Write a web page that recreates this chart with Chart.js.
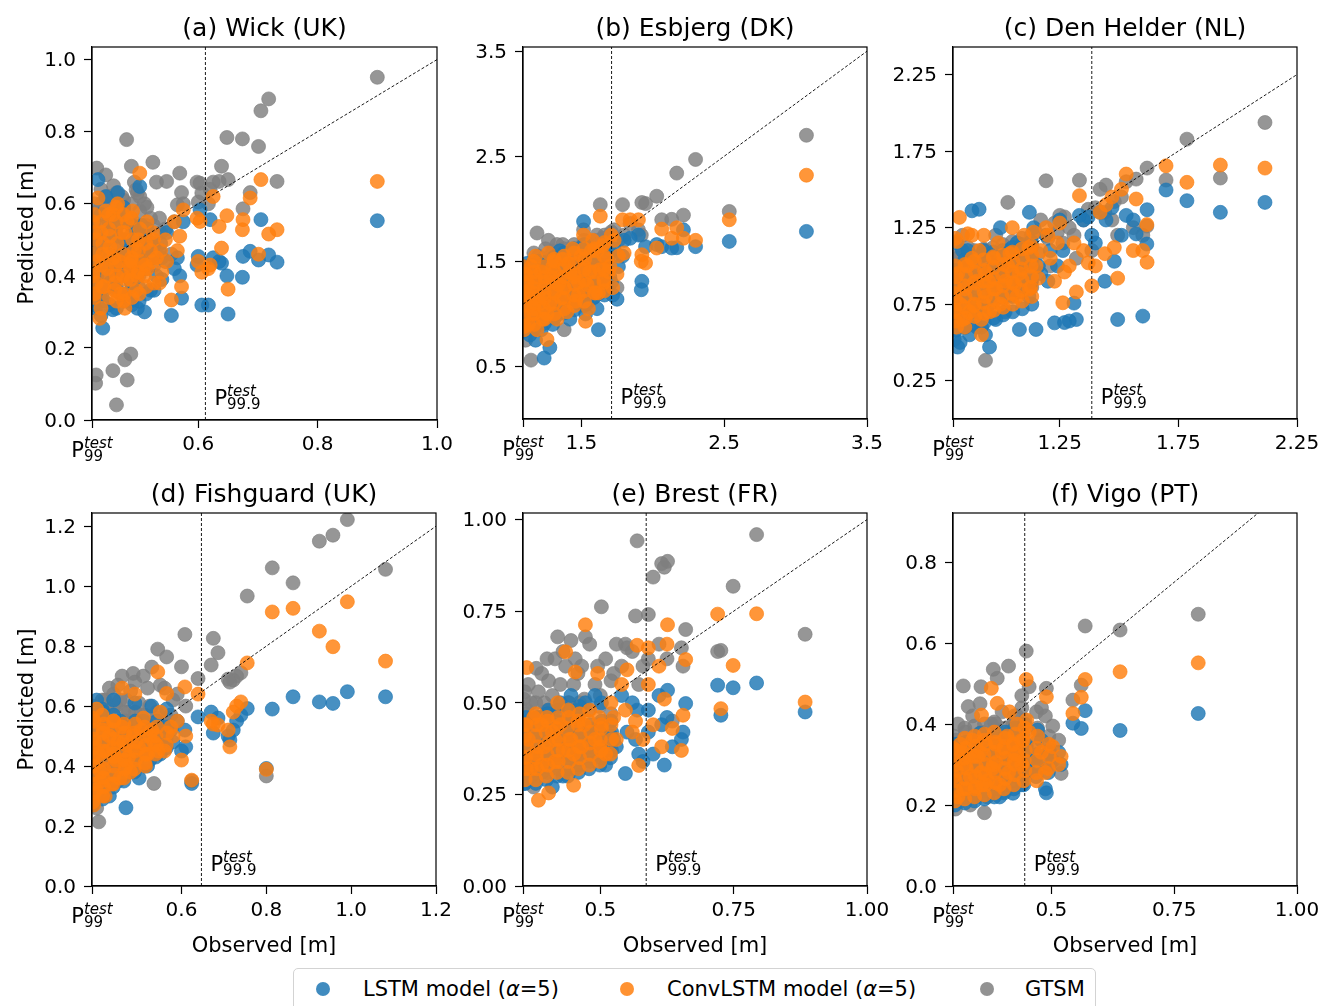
<!DOCTYPE html>
<html>
<head>
<meta charset="utf-8">
<title>Extreme surge predictions</title>
<script src="https://cdn.jsdelivr.net/npm/chart.js@4.4.1/dist/chart.umd.min.js"></script>
<style>
  html, body { margin: 0; padding: 0; background: #fff; }
  #fig { position: relative; width: 1324px; height: 1006px; overflow: hidden; background: #fff; }
  #fig canvas { position: absolute; left: 0; top: 0; }
  #legend { position: absolute; left: 293px; top: 968px; width: 801px; height: 60px;
            border: 1px solid #d3d3d3; border-radius: 5px; }
  .mk { position: absolute; top: 982px; width: 14px; height: 14px; border-radius: 50%; }
  .lg { position: absolute; top: 977px; font-family: 'DejaVu Sans', sans-serif; font-size: 21px;
        line-height: 24px; color: #000; white-space: nowrap; }
</style>
</head>
<body>
<div id="fig">
  <div id="legend"></div>
  <div class="mk" style="left:316px;background:rgba(31,119,180,0.85)"></div>
  <span class="lg" style="left:363px">LSTM model (<i>α</i>=5)</span>
  <div class="mk" style="left:620px;background:rgba(255,127,14,0.85)"></div>
  <span class="lg" style="left:667px">ConvLSTM model (<i>α</i>=5)</span>
  <div class="mk" style="left:980px;background:rgba(127,127,127,0.85)"></div>
  <span class="lg" style="left:1025px">GTSM</span>
</div>
<script>
// ---- stations, thresholds and axis limits ----
const stations = ['(a) Wick (UK)', '(b) Esbjerg (DK)', '(c) Den Helder (NL)',
                  '(d) Fishguard (UK)', '(e) Brest (FR)', '(f) Vigo (PT)'];
const p99  = [0.422, 1.092, 0.80, 0.389, 0.355, 0.30];   // x-axis starts at P99 of the test set
const p999 = [0.612, 1.712, 1.385, 0.647, 0.586, 0.446];
const xMax = [1.0, 3.5, 2.25, 1.2, 1.0, 1.0];
const yMax = [1.035, 3.54, 2.43, 1.244, 1.018, 0.921];

const xTicks = [[0.6, 0.8, 1.0], [1.5, 2.5, 3.5], [1.25, 1.75, 2.25],
                [0.6, 0.8, 1.0, 1.2], [0.5, 0.75, 1.0], [0.5, 0.75, 1.0]];
const xTickLabels = [['0.6', '0.8', '1.0'], ['1.5', '2.5', '3.5'], ['1.25', '1.75', '2.25'],
                     ['0.6', '0.8', '1.0', '1.2'], ['0.5', '0.75', '1.00'], ['0.5', '0.75', '1.00']];
const yTicks = [[0, 0.2, 0.4, 0.6, 0.8, 1.0], [0.5, 1.5, 2.5, 3.5], [0.25, 0.75, 1.25, 1.75, 2.25],
                [0, 0.2, 0.4, 0.6, 0.8, 1.0, 1.2], [0, 0.25, 0.5, 0.75, 1.0], [0, 0.2, 0.4, 0.6, 0.8]];
const yTickLabels = [['0.0', '0.2', '0.4', '0.6', '0.8', '1.0'], ['0.5', '1.5', '2.5', '3.5'],
                     ['0.25', '0.75', '1.25', '1.75', '2.25'],
                     ['0.0', '0.2', '0.4', '0.6', '0.8', '1.0', '1.2'],
                     ['0.00', '0.25', '0.50', '0.75', '1.00'], ['0.0', '0.2', '0.4', '0.6', '0.8']];

// ---- observed vs predicted surge [m] ----
const wickObs = [0.900, 0.732, 0.718, 0.705, 0.701, 0.687, 0.675, 0.674, 0.650, 0.648,
  0.639, 0.635, 0.625, 0.620, 0.617, 0.606, 0.603, 0.600, 0.598, 0.575,
  0.572, 0.569, 0.565, 0.560, 0.555, 0.547, 0.545, 0.535, 0.524, 0.520,
  0.510, 0.505, 0.502, 0.498, 0.496, 0.490, 0.488, 0.487, 0.481, 0.480,
  0.477, 0.472, 0.468, 0.465, 0.463, 0.460, 0.457, 0.452, 0.447, 0.442,
  0.440, 0.437, 0.435, 0.432, 0.430, 0.429, 0.428, 0.426, 0.424, 0.423,
  0.470, 0.485, 0.493, 0.515, 0.450, 0.475, 0.445, 0.458, 0.500, 0.530,
  0.426, 0.424, 0.427, 0.425, 0.426, 0.437, 0.439, 0.438, 0.440, 0.437,
  0.451, 0.449, 0.450, 0.452, 0.450, 0.463, 0.461, 0.462, 0.464, 0.462,
  0.463, 0.476, 0.474, 0.475, 0.477, 0.475, 0.489, 0.487, 0.488, 0.490,
  0.488, 0.501, 0.499, 0.500, 0.502, 0.513, 0.511, 0.512, 0.514, 0.526,
  0.524, 0.525, 0.539, 0.537];
const wickLstm = [0.553, 0.438, 0.458, 0.556, 0.444, 0.468, 0.454, 0.396, 0.294, 0.400,
  0.435, 0.440, 0.450, 0.556, 0.319, 0.319, 0.583, 0.454, 0.430, 0.550,
  0.338, 0.400, 0.450, 0.420, 0.290, 0.520, 0.440, 0.470, 0.450, 0.360,
  0.300, 0.540, 0.648, 0.310, 0.420, 0.500, 0.380, 0.330, 0.470, 0.350,
  0.420, 0.550, 0.400, 0.631, 0.360, 0.450, 0.306, 0.380, 0.500, 0.330,
  0.255, 0.420, 0.350, 0.667, 0.400, 0.460, 0.310, 0.380, 0.520, 0.430,
  0.440, 0.400, 0.430, 0.480, 0.370, 0.340, 0.620, 0.520, 0.370, 0.400,
  0.32, 0.42, 0.44, 0.50, 0.55, 0.29, 0.35, 0.45, 0.47, 0.57,
  0.32, 0.42, 0.44, 0.53, 0.55, 0.31, 0.40, 0.41, 0.51, 0.53,
  0.57, 0.33, 0.42, 0.44, 0.50, 0.59, 0.32, 0.41, 0.42, 0.52,
  0.54, 0.33, 0.43, 0.45, 0.51, 0.35, 0.45, 0.47, 0.53, 0.36,
  0.46, 0.48, 0.39, 0.49];
const wickConv = [0.662, 0.528, 0.516, 0.667, 0.460, 0.616, 0.556, 0.528, 0.363, 0.567,
  0.477, 0.537, 0.620, 0.430, 0.420, 0.410, 0.551, 0.440, 0.560, 0.583,
  0.370, 0.510, 0.470, 0.550, 0.333, 0.440, 0.500, 0.380, 0.520, 0.470,
  0.400, 0.440, 0.685, 0.400, 0.360, 0.580, 0.450, 0.420, 0.550, 0.390,
  0.310, 0.520, 0.440, 0.600, 0.400, 0.360, 0.570, 0.480, 0.420, 0.370,
  0.460, 0.520, 0.282, 0.616, 0.440, 0.380, 0.500, 0.350, 0.410, 0.550,
  0.350, 0.430, 0.470, 0.420, 0.530, 0.330, 0.580, 0.450, 0.500, 0.450,
  0.34, 0.40, 0.46, 0.52, 0.57, 0.31, 0.37, 0.43, 0.49, 0.55,
  0.34, 0.40, 0.46, 0.51, 0.57, 0.33, 0.38, 0.43, 0.49, 0.55,
  0.59, 0.35, 0.40, 0.46, 0.52, 0.57, 0.34, 0.39, 0.44, 0.50,
  0.56, 0.35, 0.41, 0.47, 0.53, 0.37, 0.43, 0.49, 0.55, 0.38,
  0.44, 0.50, 0.41, 0.47];
const wickGtsm = [0.951, 0.662, 0.891, 0.858, 0.759, 0.631, 0.586, 0.780, 0.667, 0.784,
  0.704, 0.662, 0.660, 0.640, 0.600, 0.630, 0.657, 0.605, 0.660, 0.600,
  0.631, 0.685, 0.597, 0.550, 0.460, 0.662, 0.530, 0.560, 0.715, 0.560,
  0.600, 0.540, 0.620, 0.630, 0.639, 0.500, 0.704, 0.183, 0.111, 0.778,
  0.167, 0.620, 0.580, 0.550, 0.042, 0.500, 0.137, 0.583, 0.450, 0.600,
  0.400, 0.640, 0.520, 0.580, 0.699, 0.125, 0.102, 0.440, 0.550, 0.490,
  0.470, 0.560, 0.660, 0.500, 0.620, 0.580, 0.680, 0.650, 0.450, 0.660,
  0.38, 0.45, 0.50, 0.56, 0.60, 0.36, 0.41, 0.48, 0.53, 0.60,
  0.39, 0.44, 0.51, 0.56, 0.62, 0.37, 0.43, 0.48, 0.54, 0.59,
  0.63, 0.40, 0.46, 0.50, 0.57, 0.61, 0.38, 0.44, 0.49, 0.55,
  0.60, 0.40, 0.46, 0.51, 0.58, 0.42, 0.47, 0.54, 0.59, 0.43,
  0.49, 0.54, 0.45, 0.52];

const esbjergObs = [3.076, 2.536, 2.30, 2.215, 2.168, 2.133, 2.063, 2.028, 1.95, 1.924,
  1.92, 1.90, 1.842, 1.80, 1.789, 1.76, 1.75, 1.73, 1.72, 1.70,
  1.68, 1.66, 1.633, 1.62, 1.61, 1.60, 1.58, 1.56, 1.55, 1.53,
  1.516, 1.50, 1.48, 1.46, 1.44, 1.42, 1.40, 1.38, 1.37, 1.35,
  1.33, 1.32, 1.30, 1.28, 1.27, 1.26, 1.25, 1.24, 1.23, 1.22,
  1.20, 1.19, 1.18, 1.17, 1.16, 1.15, 1.148, 1.14, 1.13, 1.12,
  1.11, 1.10, 1.095, 1.093, 1.21, 1.29, 1.36, 1.45, 1.52, 1.57,
  1.65, 1.69, 1.71, 1.13, 1.26, 1.34, 1.41, 1.48, 1.54, 1.63,
  1.11, 1.18, 1.31,
  1.102, 1.098, 1.104, 1.100, 1.103, 1.099,
  1.171, 1.168, 1.172, 1.169, 1.173, 1.170, 1.168,
  1.242, 1.238, 1.241, 1.239, 1.243, 1.240,
  1.312, 1.308, 1.311, 1.309, 1.313, 1.310,
  1.382, 1.378, 1.381, 1.379, 1.383, 1.380,
  1.452, 1.448, 1.451, 1.449, 1.453, 1.450,
  1.522, 1.518, 1.521, 1.519, 1.523, 1.520,
  1.592, 1.588, 1.591, 1.589, 1.593,
  1.662, 1.658, 1.661, 1.659, 1.663];
const esbjergLstm = [1.785, 1.69, 1.64, 1.80, 1.63, 1.627, 1.64, 1.66, 1.64, 1.31,
  1.23, 1.75, 1.72, 1.70, 1.55, 1.45, 1.14, 1.62, 1.18, 1.35,
  1.25, 1.40, 1.55, 0.85, 1.05, 1.30, 1.15, 1.45, 1.20, 1.00,
  1.88, 1.35, 1.10, 1.25, 1.50, 0.95, 1.30, 1.45, 1.05, 1.60,
  1.15, 1.38, 0.90, 0.68, 1.25, 1.45, 1.05, 0.58, 1.35, 0.85,
  1.50, 1.10, 0.75, 1.30, 0.95, 1.20, 1.40, 0.80, 1.05, 1.48,
  0.90, 1.25, 1.00, 0.85, 1.00, 1.20, 1.10, 1.35, 1.25, 1.35,
  1.50, 1.55, 1.30, 1.15, 1.10, 1.00, 1.20, 1.45, 1.10, 1.20,
  1.35, 1.25, 1.35,
  0.84, 1.02, 1.05, 1.22, 1.25, 1.42,
  0.86, 1.04, 1.06, 1.24, 1.26, 1.44, 1.46,
  0.91, 1.09, 1.11, 1.29, 1.31, 1.49,
  0.96, 1.14, 1.16, 1.34, 1.36, 1.54,
  1.01, 1.19, 1.21, 1.39, 1.41, 1.58,
  1.04, 1.22, 1.24, 1.42, 1.44, 1.62,
  1.08, 1.26, 1.28, 1.46, 1.48, 1.66,
  1.16, 1.34, 1.36, 1.54, 1.58,
  1.18, 1.36, 1.38, 1.59, 1.64];
const esbjergConv = [2.32, 1.896, 1.70, 1.72, 1.82, 1.72, 1.807, 1.627, 1.484, 1.563,
  1.50, 1.896, 1.896, 1.58, 1.896, 1.55, 1.38, 1.70, 1.25, 1.45,
  1.52, 1.30, 1.93, 1.20, 1.60, 1.20, 1.70, 1.40, 1.05, 0.93,
  1.75, 1.55, 1.30, 1.12, 1.62, 1.40, 1.02, 1.25, 1.52, 1.35,
  0.95, 1.22, 1.45, 1.10, 1.58, 0.756, 1.30, 1.20, 0.95, 1.40,
  1.15, 0.85, 1.35, 1.05, 1.25, 1.45, 1.00, 1.15, 0.90, 1.30,
  1.10, 0.85, 1.45, 1.20, 1.10, 1.35, 1.15, 1.35, 1.45, 1.60,
  1.65, 1.40, 1.75, 1.22, 1.00, 1.28, 1.48, 1.18, 1.28, 1.42,
  1.38, 1.55, 1.52,
  0.88, 0.98, 1.08, 1.18, 1.28, 1.38,
  0.90, 1.00, 1.10, 1.20, 1.30, 1.40, 1.50,
  0.95, 1.05, 1.15, 1.25, 1.35, 1.45,
  1.00, 1.10, 1.20, 1.30, 1.40, 1.50,
  1.05, 1.15, 1.25, 1.35, 1.45, 1.55,
  1.08, 1.18, 1.28, 1.38, 1.48, 1.58,
  1.12, 1.22, 1.32, 1.42, 1.52, 1.62,
  1.20, 1.30, 1.40, 1.50, 1.62,
  1.22, 1.32, 1.42, 1.55, 1.68];
const esbjergGtsm = [2.70, 1.975, 2.47, 1.94, 2.34, 1.90, 1.896, 2.12, 2.05, 2.06,
  1.75, 1.80, 1.86, 1.75, 2.04, 1.70, 1.25, 1.80, 1.55, 1.60,
  1.70, 1.50, 2.04, 1.40, 1.75, 1.45, 1.55, 1.65, 1.30, 1.25,
  1.80, 1.45, 1.62, 1.38, 1.55, 1.20, 1.50, 0.85, 1.66, 1.40,
  1.66, 1.30, 1.60, 1.25, 1.70, 1.10, 1.62, 1.00, 1.45, 1.30,
  1.55, 1.77, 1.00, 1.20, 1.40, 0.90, 0.56, 1.30, 1.10, 1.45,
  0.75, 1.20, 1.35, 0.95, 1.15, 1.35, 1.25, 1.45, 1.50, 1.50,
  1.72, 1.62, 1.78, 1.25, 1.05, 1.15, 1.35, 1.20, 1.35, 1.38,
  1.30, 1.50, 1.45,
  0.95, 1.06, 1.15, 1.26, 1.35, 1.45,
  0.98, 1.08, 1.18, 1.28, 1.38, 1.48, 1.58,
  1.03, 1.13, 1.22, 1.33, 1.42, 1.53,
  1.08, 1.18, 1.28, 1.38, 1.48, 1.58,
  1.12, 1.23, 1.32, 1.43, 1.52, 1.62,
  1.15, 1.26, 1.35, 1.46, 1.55, 1.66,
  1.20, 1.30, 1.40, 1.50, 1.60, 1.70,
  1.28, 1.38, 1.48, 1.58, 1.70,
  1.30, 1.40, 1.50, 1.62, 1.75];

const denHelderObs = [2.115, 1.927, 1.786, 1.698, 1.618, 1.617, 1.60, 1.572, 1.56, 1.53,
  1.51, 1.494, 1.48, 1.47, 1.445, 1.44, 1.42, 1.40, 1.385, 1.37,
  1.35, 1.333, 1.32, 1.31, 1.29, 1.27, 1.263, 1.25, 1.228, 1.21,
  1.192, 1.17, 1.15, 1.14, 1.122, 1.10, 1.08, 1.07, 1.05, 1.031,
  1.02, 1.00, 0.99, 0.98, 0.97, 0.954, 0.94, 0.937, 0.93, 0.92,
  0.91, 0.90, 0.89, 0.88, 0.87, 0.86, 0.85, 0.84, 0.83, 0.827,
  0.82, 0.815, 0.81, 0.805, 0.80, 0.95, 1.04, 1.12, 1.16, 1.06,
  0.88, 0.92, 0.85, 1.20, 1.24,
  0.812, 0.808, 0.811, 0.809, 0.813, 0.810,
  0.852, 0.848, 0.851, 0.849, 0.853, 0.850,
  0.892, 0.888, 0.891, 0.889, 0.893, 0.890,
  0.932, 0.928, 0.931, 0.929, 0.933, 0.930,
  0.972, 0.968, 0.971, 0.969, 0.973, 0.970,
  1.012, 1.008, 1.011, 1.009, 1.013, 1.010,
  1.052, 1.048, 1.051, 1.049, 1.053, 1.050,
  1.092, 1.088, 1.091, 1.089, 1.093, 1.090,
  1.132, 1.128, 1.131, 1.129, 1.133, 1.130,
  0.818, 0.862];
const denHelderLstm = [1.415, 1.35, 1.426, 1.496, 1.367, 1.143, 0.672, 1.209, 1.30, 1.33,
  1.20, 0.65, 1.03, 1.38, 1.30, 0.90, 1.35, 1.15, 1.20, 1.32,
  1.30, 1.33, 0.65, 0.757, 0.64, 0.63, 1.10, 1.30, 0.628, 1.10,
  1.20, 0.95, 0.585, 1.25, 1.35, 1.05, 0.585, 1.15, 0.80, 1.10,
  0.70, 1.25, 0.95, 0.65, 1.00, 0.47, 0.80, 0.55, 1.10, 0.70,
  1.37, 0.60, 0.90, 1.36, 0.55, 0.85, 0.60, 1.10, 0.50, 0.80,
  0.47, 1.15, 0.65, 0.52, 0.90, 0.75, 0.85, 0.80, 1.00, 0.95,
  0.70, 0.60, 0.75, 0.90, 1.00,
  0.58, 0.66, 0.80, 0.82, 0.95, 0.97,
  0.60, 0.75, 0.76, 0.90, 0.91, 1.04,
  0.62, 0.77, 0.79, 0.92, 0.93, 1.06,
  0.63, 0.79, 0.80, 0.93, 0.95, 1.07,
  0.66, 0.81, 0.82, 0.95, 0.96, 1.09,
  0.68, 0.83, 0.84, 0.97, 0.98, 1.10,
  0.70, 0.85, 0.86, 0.99, 1.00, 1.12,
  0.72, 0.87, 0.88, 1.01, 1.02, 1.14,
  0.75, 0.89, 0.90, 1.03, 1.04, 1.16,
  0.95, 1.10];
const denHelderConv = [1.639, 1.659, 1.546, 1.654, 1.024, 1.27, 1.10, 1.437, 1.10, 1.60,
  1.50, 0.92, 1.12, 1.45, 1.40, 1.08, 1.35, 1.00, 0.87, 1.02,
  1.10, 1.459, 0.83, 1.15, 1.00, 0.96, 0.759, 1.28, 0.90, 1.05,
  1.25, 1.10, 1.00, 1.22, 0.85, 1.20, 0.95, 0.80, 1.25, 1.00,
  0.90, 0.75, 1.15, 0.85, 1.05, 0.70, 0.95, 0.80, 1.20, 0.65,
  1.10, 0.90, 0.75, 1.20, 0.70, 1.00, 0.85, 0.65, 0.75, 1.317,
  0.95, 0.60, 1.18, 0.82, 0.70, 0.90, 1.08, 1.12, 0.92, 0.88,
  1.05, 0.55, 0.60, 1.20, 1.15,
  0.64, 0.71, 0.78, 0.86, 0.93, 1.00,
  0.66, 0.73, 0.80, 0.87, 0.94, 1.01,
  0.67, 0.74, 0.82, 0.89, 0.96, 1.03,
  0.69, 0.76, 0.83, 0.90, 0.97, 1.04,
  0.71, 0.78, 0.85, 0.92, 0.99, 1.06,
  0.73, 0.80, 0.87, 0.94, 1.01, 1.07,
  0.75, 0.82, 0.89, 0.96, 1.03, 1.09,
  0.77, 0.84, 0.91, 0.98, 1.05, 1.11,
  0.80, 0.86, 0.93, 1.00, 1.07, 1.13,
  1.16, 1.21];
const denHelderGtsm = [1.937, 1.574, 1.828, 1.561, 1.639, 1.26, 1.20, 1.567, 1.25, 1.55,
  1.45, 1.20, 1.42, 1.30, 1.528, 1.35, 1.50, 1.38, 1.10, 1.37,
  1.30, 1.56, 1.05, 1.20, 1.25, 1.32, 1.15, 1.33, 1.28, 1.00,
  1.556, 1.30, 1.22, 0.98, 1.10, 0.95, 1.05, 1.15, 0.90, 1.415,
  0.85, 1.05, 0.80, 1.20, 0.95, 0.75, 1.10, 0.383, 0.90, 0.85,
  1.00, 0.70, 1.05, 0.80, 0.75, 0.90, 0.65, 1.20, 0.60, 0.95,
  0.70, 0.85, 0.80, 1.00, 0.65, 0.85, 1.00, 1.05, 1.08, 1.12,
  0.90, 0.70, 0.80, 1.18, 1.22,
  0.70, 0.78, 0.84, 0.92, 0.99, 1.06,
  0.72, 0.80, 0.86, 0.95, 1.00, 1.08,
  0.73, 0.82, 0.88, 0.96, 1.02, 1.10,
  0.75, 0.83, 0.90, 0.97, 1.04, 1.11,
  0.77, 0.85, 0.92, 0.99, 1.05, 1.12,
  0.79, 0.87, 0.93, 1.01, 1.07, 1.14,
  0.81, 0.89, 0.95, 1.03, 1.09, 1.16,
  0.83, 0.91, 0.97, 1.05, 1.11, 1.18,
  0.86, 0.93, 0.99, 1.07, 1.13, 1.20,
  1.05, 1.12];

const fishguardObs = [1.081, 0.991, 0.957, 0.925, 0.863, 0.814, 0.80, 0.755, 0.74, 0.73,
  0.722, 0.714, 0.71, 0.686, 0.675, 0.67, 0.639, 0.624, 0.61, 0.608,
  0.60, 0.59, 0.58, 0.565, 0.56, 0.55, 0.544, 0.535, 0.53, 0.52,
  0.51, 0.50, 0.49, 0.486, 0.48, 0.475, 0.469, 0.46, 0.455, 0.45,
  0.445, 0.44, 0.435, 0.43, 0.425, 0.42, 0.415, 0.41, 0.405, 0.40,
  0.398, 0.395, 0.393, 0.391, 0.39, 0.47, 0.505, 0.515, 0.525, 0.545,
  0.575, 0.44, 0.41, 0.46,
  0.391, 0.393, 0.392, 0.390, 0.394, 0.391, 0.393, 0.392, 0.390, 0.394,
  0.414, 0.416, 0.415, 0.417, 0.413, 0.416, 0.414, 0.415, 0.417, 0.413,
  0.439, 0.441, 0.440, 0.442, 0.438, 0.441, 0.439, 0.440,
  0.464, 0.466, 0.465, 0.467, 0.463, 0.466, 0.464,
  0.489, 0.491, 0.490, 0.492, 0.488, 0.491,
  0.514, 0.516, 0.515, 0.517, 0.513,
  0.539, 0.541, 0.540, 0.542,
  0.564, 0.566];
const fishguardLstm = [0.631, 0.648, 0.609, 0.614, 0.631, 0.59, 0.392, 0.592, 0.57, 0.55,
  0.52, 0.487, 0.50, 0.56, 0.51, 0.58, 0.564, 0.342, 0.464, 0.52,
  0.45, 0.55, 0.48, 0.59, 0.50, 0.44, 0.53, 0.46, 0.60, 0.40,
  0.55, 0.36, 0.61, 0.45, 0.38, 0.52, 0.261, 0.43, 0.55, 0.35,
  0.48, 0.62, 0.40, 0.30, 0.50, 0.36, 0.58, 0.42, 0.32, 0.62,
  0.45, 0.38, 0.28, 0.55, 0.33, 0.40, 0.48, 0.45, 0.42, 0.48,
  0.52, 0.38, 0.47, 0.50,
  0.27, 0.33, 0.31, 0.39, 0.37, 0.45, 0.44, 0.51, 0.50, 0.57,
  0.29, 0.35, 0.34, 0.41, 0.40, 0.47, 0.46, 0.53, 0.52, 0.59,
  0.33, 0.39, 0.38, 0.45, 0.44, 0.51, 0.50, 0.57,
  0.35, 0.41, 0.40, 0.47, 0.46, 0.53, 0.52,
  0.38, 0.44, 0.43, 0.50, 0.49, 0.55,
  0.40, 0.46, 0.45, 0.52, 0.51,
  0.43, 0.49, 0.48, 0.55,
  0.46, 0.53];
const fishguardConv = [0.75, 0.948, 0.798, 0.85, 0.926, 0.914, 0.389, 0.744, 0.614, 0.60,
  0.58, 0.464, 0.52, 0.537, 0.54, 0.55, 0.64, 0.353, 0.50, 0.664,
  0.42, 0.55, 0.50, 0.642, 0.45, 0.58, 0.714, 0.48, 0.52, 0.44,
  0.56, 0.46, 0.64, 0.50, 0.38, 0.43, 0.40, 0.66, 0.36, 0.48,
  0.42, 0.55, 0.34, 0.50, 0.45, 0.30, 0.52, 0.38, 0.44, 0.59,
  0.32, 0.48, 0.27, 0.40, 0.56, 0.47, 0.52, 0.40, 0.50, 0.45,
  0.53, 0.44, 0.35, 0.53,
  0.28, 0.31, 0.34, 0.37, 0.40, 0.43, 0.46, 0.49, 0.52, 0.55,
  0.30, 0.33, 0.36, 0.39, 0.42, 0.45, 0.48, 0.51, 0.54, 0.57,
  0.34, 0.37, 0.40, 0.43, 0.46, 0.49, 0.52, 0.55,
  0.36, 0.39, 0.42, 0.45, 0.48, 0.51, 0.54,
  0.39, 0.42, 0.45, 0.48, 0.51, 0.54,
  0.41, 0.44, 0.47, 0.50, 0.53,
  0.44, 0.47, 0.50, 0.53,
  0.47, 0.51];
const fishguardGtsm = [1.056, 1.222, 1.17, 1.15, 1.011, 1.061, 0.367, 0.967, 0.711, 0.70,
  0.687, 0.68, 0.69, 0.778, 0.826, 0.737, 0.692, 0.35, 0.60, 0.839,
  0.731, 0.64, 0.62, 0.764, 0.66, 0.67, 0.79, 0.342, 0.73, 0.66,
  0.70, 0.61, 0.68, 0.709, 0.65, 0.58, 0.55, 0.70, 0.62, 0.67,
  0.60, 0.64, 0.52, 0.66, 0.56, 0.62, 0.48, 0.57, 0.214, 0.26,
  0.55, 0.50, 0.35, 0.60, 0.45, 0.62, 0.57, 0.55, 0.60, 0.56,
  0.57, 0.46, 0.40, 0.51,
  0.30, 0.29, 0.36, 0.35, 0.42, 0.41, 0.48, 0.47, 0.55, 0.58,
  0.32, 0.31, 0.38, 0.37, 0.44, 0.43, 0.50, 0.49, 0.56, 0.62,
  0.36, 0.35, 0.42, 0.41, 0.48, 0.47, 0.54, 0.60,
  0.38, 0.37, 0.44, 0.43, 0.50, 0.49, 0.58,
  0.41, 0.40, 0.47, 0.46, 0.53, 0.58,
  0.43, 0.42, 0.49, 0.48, 0.57,
  0.46, 0.45, 0.52, 0.58,
  0.49, 0.56];

const brestObs = [0.884, 0.793, 0.749, 0.726, 0.72, 0.66, 0.655, 0.652, 0.626, 0.62,
  0.615, 0.61, 0.599, 0.59, 0.58, 0.569, 0.566, 0.572, 0.56, 0.55,
  0.547, 0.54, 0.53, 0.52, 0.51, 0.502, 0.495, 0.49, 0.48, 0.472,
  0.465, 0.458, 0.453, 0.45, 0.445, 0.44, 0.435, 0.43, 0.425, 0.42,
  0.415, 0.41, 0.403, 0.40, 0.395, 0.39, 0.384, 0.38, 0.375, 0.37,
  0.365, 0.362, 0.358, 0.356, 0.47, 0.50, 0.525, 0.415, 0.39, 0.45,
  0.59, 0.635, 0.625,
  0.359, 0.361, 0.360, 0.362, 0.358, 0.361,
  0.379, 0.381, 0.380, 0.382, 0.378, 0.381, 0.379,
  0.399, 0.401, 0.400, 0.402, 0.398, 0.401,
  0.419, 0.421, 0.420, 0.422, 0.418, 0.421,
  0.439, 0.441, 0.440, 0.442, 0.438, 0.441,
  0.459, 0.461, 0.460, 0.462, 0.458, 0.461,
  0.479, 0.481, 0.480, 0.482, 0.478,
  0.499, 0.501, 0.500, 0.502, 0.498,
  0.519, 0.521, 0.520];
const brestLstm = [0.475, 0.554, 0.541, 0.466, 0.548, 0.498, 0.42, 0.40, 0.534, 0.33,
  0.44, 0.52, 0.36, 0.48, 0.34, 0.48, 0.40, 0.36, 0.50, 0.42,
  0.307, 0.52, 0.38, 0.45, 0.33, 0.50, 0.40, 0.52, 0.36, 0.50,
  0.40, 0.48, 0.32, 0.42, 0.52, 0.35, 0.45, 0.30, 0.50, 0.38,
  0.44, 0.27, 0.48, 0.36, 0.42, 0.31, 0.46, 0.35, 0.40, 0.30,
  0.45, 0.34, 0.28, 0.42, 0.42, 0.38, 0.40, 0.36, 0.38, 0.38,
  0.42, 0.38, 0.46,
  0.28, 0.34, 0.33, 0.40, 0.39, 0.46,
  0.28, 0.34, 0.33, 0.40, 0.39, 0.46, 0.45,
  0.29, 0.35, 0.34, 0.41, 0.40, 0.47,
  0.30, 0.36, 0.35, 0.42, 0.41, 0.48,
  0.30, 0.36, 0.35, 0.42, 0.41, 0.48,
  0.31, 0.37, 0.36, 0.43, 0.42, 0.49,
  0.32, 0.38, 0.37, 0.44, 0.43,
  0.33, 0.39, 0.38, 0.45, 0.44,
  0.35, 0.42, 0.41];
const brestConv = [0.502, 0.743, 0.602, 0.484, 0.742, 0.618, 0.466, 0.37, 0.713, 0.51,
  0.38, 0.60, 0.44, 0.65, 0.40, 0.657, 0.45, 0.329, 0.42, 0.59,
  0.48, 0.55, 0.40, 0.50, 0.36, 0.44, 0.58, 0.40, 0.48, 0.713,
  0.38, 0.45, 0.584, 0.275, 0.40, 0.48, 0.639, 0.37, 0.44, 0.50,
  0.34, 0.42, 0.254, 0.46, 0.38, 0.44, 0.234, 0.36, 0.46, 0.32,
  0.40, 0.596, 0.44, 0.35, 0.44, 0.38, 0.46, 0.40, 0.33, 0.36,
  0.55, 0.43, 0.66,
  0.29, 0.32, 0.35, 0.38, 0.41, 0.44,
  0.29, 0.32, 0.35, 0.38, 0.41, 0.44, 0.47,
  0.30, 0.33, 0.36, 0.39, 0.42, 0.45,
  0.31, 0.34, 0.37, 0.40, 0.43, 0.46,
  0.31, 0.34, 0.37, 0.40, 0.43, 0.46,
  0.32, 0.35, 0.38, 0.41, 0.44, 0.47,
  0.33, 0.36, 0.39, 0.42, 0.45,
  0.34, 0.37, 0.40, 0.43, 0.46,
  0.36, 0.40, 0.44];
const brestGtsm = [0.687, 0.959, 0.818, 0.643, 0.64, 0.70, 0.60, 0.65, 0.886, 0.87,
  0.88, 0.66, 0.843, 0.741, 0.60, 0.942, 0.737, 0.55, 0.64, 0.65,
  0.66, 0.60, 0.66, 0.56, 0.62, 0.762, 0.60, 0.55, 0.66, 0.68,
  0.60, 0.58, 0.62, 0.55, 0.67, 0.50, 0.60, 0.64, 0.55, 0.68,
  0.62, 0.52, 0.56, 0.62, 0.50, 0.58, 0.53, 0.594, 0.27, 0.50,
  0.55, 0.48, 0.53, 0.51, 0.51, 0.52, 0.58, 0.45, 0.46, 0.48,
  0.62, 0.45, 0.62,
  0.31, 0.30, 0.37, 0.36, 0.43, 0.47,
  0.31, 0.30, 0.37, 0.36, 0.43, 0.42, 0.50,
  0.32, 0.31, 0.38, 0.37, 0.44, 0.48,
  0.33, 0.32, 0.39, 0.38, 0.45, 0.49,
  0.33, 0.32, 0.39, 0.38, 0.45, 0.50,
  0.34, 0.33, 0.40, 0.39, 0.46, 0.50,
  0.35, 0.34, 0.41, 0.40, 0.48,
  0.36, 0.35, 0.42, 0.41, 0.49,
  0.38, 0.37, 0.47];

const vigoObs = [0.799, 0.64, 0.569, 0.561, 0.544, 0.52, 0.515, 0.503, 0.49, 0.488,
  0.48, 0.47, 0.455, 0.449, 0.44, 0.43, 0.422, 0.415, 0.413, 0.40,
  0.39, 0.387, 0.382, 0.378, 0.37, 0.364, 0.358, 0.357, 0.355, 0.345,
  0.34, 0.335, 0.331, 0.325, 0.321, 0.315, 0.31, 0.305, 0.302, 0.30,
  0.41, 0.395, 0.43, 0.35, 0.38, 0.36, 0.44, 0.45, 0.32, 0.425,
  0.304, 0.306, 0.305, 0.307, 0.303, 0.306,
  0.324, 0.326, 0.325, 0.327, 0.323, 0.326, 0.324,
  0.344, 0.346, 0.345, 0.347, 0.343, 0.346, 0.344,
  0.364, 0.366, 0.365, 0.367, 0.363, 0.366, 0.364,
  0.384, 0.386, 0.385, 0.387, 0.383, 0.386, 0.384,
  0.404, 0.406, 0.405, 0.407, 0.403, 0.406,
  0.424, 0.426, 0.425, 0.427, 0.423, 0.426,
  0.444, 0.446, 0.445, 0.447, 0.443, 0.446,
  0.469, 0.471, 0.470, 0.472,
  0.494, 0.496, 0.495];
const vigoLstm = [0.426, 0.384, 0.433, 0.389, 0.402, 0.30, 0.33, 0.31, 0.23, 0.24,
  0.36, 0.30, 0.28, 0.34, 0.25, 0.30, 0.229, 0.27, 0.32, 0.26,
  0.31, 0.24, 0.30, 0.28, 0.25, 0.33, 0.27, 0.30, 0.377, 0.22,
  0.29, 0.25, 0.31, 0.22, 0.28, 0.26, 0.30, 0.24, 0.33, 0.21,
  0.28, 0.22, 0.27, 0.28, 0.26, 0.29, 0.36, 0.28, 0.27, 0.33,
  0.20, 0.25, 0.245, 0.30, 0.295, 0.35,
  0.205, 0.255, 0.25, 0.305, 0.30, 0.355, 0.35,
  0.21, 0.26, 0.255, 0.31, 0.305, 0.36, 0.355,
  0.215, 0.265, 0.26, 0.315, 0.31, 0.365, 0.36,
  0.22, 0.27, 0.265, 0.32, 0.315, 0.37, 0.365,
  0.23, 0.28, 0.275, 0.33, 0.325, 0.38,
  0.24, 0.29, 0.285, 0.34, 0.335, 0.39,
  0.25, 0.30, 0.295, 0.35, 0.345, 0.40,
  0.27, 0.325, 0.32, 0.385,
  0.28, 0.335, 0.33];
const vigoConv = [0.551, 0.529, 0.51, 0.466, 0.426, 0.32, 0.30, 0.344, 0.467, 0.28,
  0.33, 0.26, 0.38, 0.51, 0.30, 0.40, 0.35, 0.43, 0.28, 0.33,
  0.451, 0.35, 0.30, 0.488, 0.26, 0.36, 0.422, 0.28, 0.33, 0.24,
  0.36, 0.27, 0.32, 0.30, 0.24, 0.35, 0.22, 0.30, 0.27, 0.34,
  0.37, 0.25, 0.33, 0.32, 0.29, 0.25, 0.36, 0.41, 0.33, 0.31,
  0.21, 0.235, 0.26, 0.285, 0.31, 0.335,
  0.215, 0.24, 0.265, 0.29, 0.315, 0.34, 0.365,
  0.22, 0.245, 0.27, 0.295, 0.32, 0.345, 0.37,
  0.225, 0.25, 0.275, 0.30, 0.325, 0.35, 0.375,
  0.23, 0.255, 0.28, 0.305, 0.33, 0.355, 0.38,
  0.24, 0.265, 0.29, 0.315, 0.34, 0.365,
  0.25, 0.275, 0.30, 0.325, 0.35, 0.375,
  0.26, 0.285, 0.31, 0.335, 0.36, 0.39,
  0.28, 0.31, 0.34, 0.37,
  0.29, 0.32, 0.35];
const vigoGtsm = [0.671, 0.632, 0.642, 0.496, 0.459, 0.278, 0.36, 0.395, 0.488, 0.42,
  0.44, 0.43, 0.492, 0.58, 0.47, 0.42, 0.40, 0.38, 0.543, 0.43,
  0.513, 0.40, 0.535, 0.40, 0.22, 0.181, 0.38, 0.492, 0.45, 0.22,
  0.42, 0.20, 0.443, 0.38, 0.494, 0.21, 0.40, 0.19, 0.37, 0.23,
  0.30, 0.24, 0.26, 0.29, 0.25, 0.32, 0.44, 0.35, 0.34, 0.42,
  0.225, 0.22, 0.275, 0.27, 0.325, 0.36,
  0.23, 0.225, 0.28, 0.275, 0.33, 0.325, 0.39,
  0.235, 0.23, 0.285, 0.28, 0.335, 0.33, 0.395,
  0.24, 0.235, 0.29, 0.285, 0.34, 0.335, 0.40,
  0.245, 0.24, 0.295, 0.29, 0.345, 0.34, 0.405,
  0.255, 0.25, 0.305, 0.30, 0.355, 0.39,
  0.265, 0.26, 0.315, 0.31, 0.365, 0.40,
  0.275, 0.27, 0.325, 0.32, 0.375, 0.41,
  0.295, 0.29, 0.355, 0.39,
  0.305, 0.30, 0.37];

const observed = [wickObs, esbjergObs, denHelderObs, fishguardObs, brestObs, vigoObs];
const lstmPred = [wickLstm, esbjergLstm, denHelderLstm, fishguardLstm, brestLstm, vigoLstm];
const convPred = [wickConv, esbjergConv, denHelderConv, fishguardConv, brestConv, vigoConv];
const gtsmPred = [wickGtsm, esbjergGtsm, denHelderGtsm, fishguardGtsm, brestGtsm, vigoGtsm];

// ---- layout: plot box of each panel on the page [left, top, right, bottom] ----
const W = 1324, H = 1006;
const Y_AXIS_W = 80, X_AXIS_H = 40;
const boxes = [[92, 47, 437, 420], [523, 47, 867, 419], [953, 47, 1297, 419],
               [92, 513, 436, 886], [523, 513, 867, 886], [953, 513, 1297, 886]];
const FAMILY = "'DejaVu Sans', sans-serif";
const BLUE = '31,119,180', ORANGE = '255,127,14', GREY = '127,127,127';

// P with "test" superscript and a percentile subscript
function drawP(ctx, x, y, sub, centred) {
  ctx.font = '21px ' + FAMILY;
  const wP = ctx.measureText('P').width;
  ctx.font = 'italic 15px ' + FAMILY;
  const wSup = ctx.measureText('test').width;
  ctx.font = '15px ' + FAMILY;
  const wSub = ctx.measureText(sub).width;
  const x0 = centred ? x - (wP + Math.max(wSup, wSub)) / 2 : x;
  ctx.textAlign = 'left';
  ctx.textBaseline = 'alphabetic';
  ctx.font = '21px ' + FAMILY;
  ctx.fillText('P', x0, y);
  ctx.font = 'italic 15px ' + FAMILY;
  ctx.fillText('test', x0 + wP, y - 9.5);
  ctx.font = '15px ' + FAMILY;
  ctx.fillText(sub, x0 + wP, y + 3.5);
}

const panelDecor = {
  id: 'panelDecor',
  afterDraw(chart, args, opts) {
    const ctx = chart.ctx, a = chart.chartArea;
    const xs = chart.scales.x;
    ctx.save();
    ctx.strokeStyle = '#000';
    ctx.lineWidth = 1.2;
    ctx.strokeRect(a.left, a.top, a.right - a.left, a.bottom - a.top);
    ctx.fillStyle = '#000';
    // title
    ctx.font = '25px ' + FAMILY;
    ctx.textAlign = 'center';
    ctx.textBaseline = 'alphabetic';
    ctx.fillText(opts.title, (a.left + a.right) / 2, a.top - 11);
    // threshold labels
    drawP(ctx, xs.getPixelForValue(opts.p99), a.bottom + 37, '99', true);
    drawP(ctx, xs.getPixelForValue(opts.p999) + 9, a.bottom - 15, '99.9', false);
    ctx.font = '21px ' + FAMILY;
    ctx.textAlign = 'center';
    if (opts.xTitle) {
      ctx.fillText(opts.xTitle, (a.left + a.right) / 2, a.bottom + 66);
    }
    if (opts.yTitle) {
      ctx.translate(a.left - 59.5, (a.top + a.bottom) / 2);
      ctx.rotate(-Math.PI / 2);
      ctx.fillText(opts.yTitle, 0, 0);
    }
    ctx.restore();
  }
};

function markers(rgb, xs, ys) {
  return {
    data: xs.map((x, k) => ({x: x, y: ys[k]})),
    backgroundColor: 'rgba(' + rgb + ',0.82)',
    borderColor: 'rgba(' + rgb + ',0.82)',
    borderWidth: 0.8,
    pointRadius: 7,
    pointHoverRadius: 7,
    clip: 0
  };
}

function refLine(points) {
  return {
    data: points,
    showLine: true,
    borderColor: '#000',
    borderWidth: 0.9,
    borderDash: [3, 2],
    pointRadius: 0,
    pointHoverRadius: 0,
    clip: 0
  };
}

const fig = document.getElementById('fig');

stations.forEach((name, i) => {
  const [L, T, R, B] = boxes[i];
  const canvas = document.createElement('canvas');
  canvas.width = W;
  canvas.height = H;
  fig.appendChild(canvas);

  const xVals = [p99[i]].concat(xTicks[i]);
  const xText = [''].concat(xTickLabels[i]);
  const tickFont = {family: FAMILY, size: 20};
  const grid = {drawOnChartArea: false, drawTicks: true, tickLength: 8, tickWidth: 1.2, tickColor: '#000'};
  const border = {display: true, color: '#000', width: 1.2};

  new Chart(canvas, {
    type: 'scatter',
    data: {
      // first dataset is drawn on top
      datasets: [
        refLine([{x: p99[i], y: p99[i]}, {x: xMax[i], y: xMax[i]}]),
        refLine([{x: p999[i], y: 0}, {x: p999[i], y: yMax[i]}]),
        markers(ORANGE, observed[i], convPred[i]),
        markers(BLUE, observed[i], lstmPred[i]),
        markers(GREY, observed[i], gtsmPred[i])
      ]
    },
    options: {
      responsive: false,
      animation: false,
      devicePixelRatio: 1,
      events: [],
      layout: {padding: {left: L - Y_AXIS_W, top: T, right: W - R, bottom: H - B - X_AXIS_H}},
      plugins: {
        legend: {display: false},
        tooltip: {enabled: false},
        panelDecor: {
          title: name, p99: p99[i], p999: p999[i],
          xTitle: i >= 3 ? 'Observed [m]' : null,
          yTitle: i % 3 === 0 ? 'Predicted [m]' : null
        }
      },
      scales: {
        x: {
          type: 'linear', min: p99[i], max: xMax[i],
          afterBuildTicks: s => { s.ticks = xVals.map(v => ({value: v})); },
          afterFit: s => { s.height = X_AXIS_H; s.paddingLeft = 0; s.paddingRight = 0; },
          ticks: {autoSkip: false, maxRotation: 0, minRotation: 0, padding: 5, color: '#000',
                  font: tickFont, callback: (v, k) => xText[k]},
          grid: grid, border: border
        },
        y: {
          type: 'linear', min: 0, max: yMax[i],
          afterBuildTicks: s => { s.ticks = yTicks[i].map(v => ({value: v})); },
          afterFit: s => { s.width = Y_AXIS_W; s.paddingTop = 0; s.paddingBottom = 0; },
          ticks: {autoSkip: false, padding: 8, labelOffset: 1.5, color: '#000',
                  font: tickFont, callback: (v, k) => yTickLabels[i][k]},
          grid: grid, border: border
        }
      }
    },
    plugins: [panelDecor]
  });
});
</script>
</body>
</html>
